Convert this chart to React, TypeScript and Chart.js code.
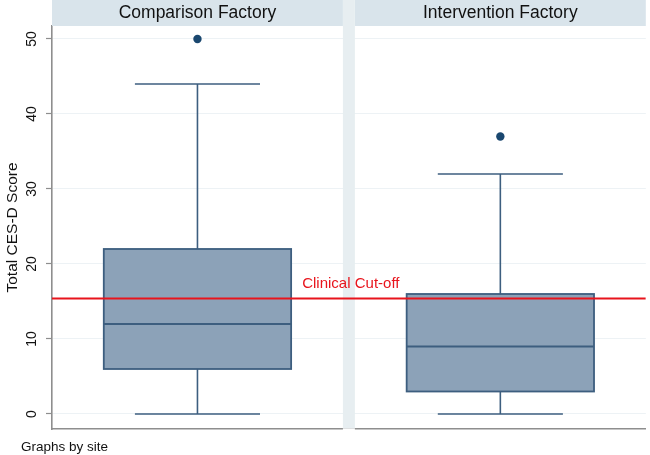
import { useEffect, useRef } from 'react';
import { Chart, registerables } from 'chart.js';

Chart.register(...registerables);

// ---- data ----
const sites = ['Comparison Factory', 'Intervention Factory'];
const lowerWhisker = [0, 0];
const q1 = [6, 3];
const median = [12, 9];
const q3 = [22, 16];
const upperWhisker = [44, 32];
const outliers = [[50], [37]];
const cutOff = 15.4;
const cutOffLabel = 'Clinical Cut-off';
const yTicks = [0, 10, 20, 30, 40, 50];
const yTitle = 'Total CES-D Score';
const note = 'Graphs by site';

// ---- layout helpers (sizes, not data) ----
const GAP = 12 / 292;
const X_MAX = sites.length + GAP * (sites.length - 1);
const BOX_HALF = 0.322;
const CAP_HALF = 0.215;
const LABEL_X = 0.86;
const panelStart = (i: number) => i * (1 + GAP);
const center = (i: number) => panelStart(i) + 0.5;
const FONT = '"Liberation Sans", Arial, Helvetica, sans-serif';

const panelPlugin = {
  id: 'panels',
  beforeDatasetsDraw(chart: any) {
    const { ctx, chartArea, scales } = chart;
    const x = scales.x;
    const y = scales.y;
    ctx.save();
    // header strips
    sites.forEach((s, i) => {
      const l = x.getPixelForValue(panelStart(i));
      const r = x.getPixelForValue(panelStart(i) + 1);
      ctx.fillStyle = '#d9e4eb';
      ctx.fillRect(l, 0, r - l, chartArea.top);
      ctx.fillStyle = '#111111';
      ctx.font = `17.5px ${FONT}`;
      ctx.textAlign = 'center';
      ctx.textBaseline = 'middle';
      ctx.fillText(s, (l + r) / 2, chartArea.top / 2 + 0.5);
    });
    // gaps between panels
    for (let i = 0; i < sites.length - 1; i++) {
      const l = x.getPixelForValue(panelStart(i) + 1);
      const r = x.getPixelForValue(panelStart(i + 1));
      ctx.fillStyle = '#e7eef1';
      ctx.fillRect(l, 0, r - l, chartArea.bottom - 0.5);
      ctx.fillStyle = '#ffffff';
      ctx.fillRect(l, chartArea.bottom - 0.5, r - l, 3);
    }
    // boxes
    const py = (v: number) => y.getPixelForValue(v);
    const seg = (x1: number, y1: number, x2: number, y2: number) => {
      ctx.beginPath();
      ctx.moveTo(x1, y1);
      ctx.lineTo(x2, y2);
      ctx.stroke();
    };
    sites.forEach((_, i) => {
      const c = x.getPixelForValue(center(i));
      const bl = x.getPixelForValue(center(i) - BOX_HALF);
      const br = x.getPixelForValue(center(i) + BOX_HALF);
      const cl = x.getPixelForValue(center(i) - CAP_HALF);
      const cr = x.getPixelForValue(center(i) + CAP_HALF);
      ctx.strokeStyle = '#3d5e7f';
      ctx.lineWidth = 1.6;
      seg(c, py(q3[i]), c, py(upperWhisker[i]));
      seg(c, py(q1[i]), c, py(lowerWhisker[i]));
      seg(cl, py(upperWhisker[i]), cr, py(upperWhisker[i]));
      seg(cl, py(lowerWhisker[i]), cr, py(lowerWhisker[i]));
      ctx.fillStyle = '#8ca2b8';
      ctx.fillRect(bl, py(q3[i]), br - bl, py(q1[i]) - py(q3[i]));
      ctx.lineWidth = 1.8;
      ctx.strokeRect(bl, py(q3[i]), br - bl, py(q1[i]) - py(q3[i]));
      seg(bl, py(median[i]), br, py(median[i]));
    });
    ctx.restore();
  },
  afterDatasetsDraw(chart: any) {
    const { ctx, scales } = chart;
    const x = scales.x;
    const y = scales.y;
    ctx.save();
    ctx.fillStyle = '#e8141c';
    ctx.font = `15px ${FONT}`;
    ctx.textAlign = 'left';
    ctx.textBaseline = 'alphabetic';
    ctx.fillText(cutOffLabel, x.getPixelForValue(LABEL_X), y.getPixelForValue(cutOff) - 10);
    ctx.fillStyle = '#111111';
    ctx.font = `13.5px ${FONT}`;
    ctx.fillText(note, 21, 451);
    ctx.restore();
  },
};

export default function App() {
  const ref = useRef<HTMLCanvasElement>(null);
  useEffect(() => {
    if (!ref.current) return;
    const outlierPoints: { x: number; y: number }[] = [];
    outliers.forEach((arr, i) => arr.forEach((v) => outlierPoints.push({ x: center(i), y: v })));
    const chart = new Chart(ref.current, {
      type: 'scatter',
      data: {
        datasets: [
          {
            label: cutOffLabel,
            data: [
              { x: 0, y: cutOff },
              { x: X_MAX, y: cutOff },
            ],
            showLine: true,
            borderColor: '#e8141c',
            borderWidth: 2,
            pointRadius: 0,
          } as any,
          {
            label: 'Outliers',
            data: outlierPoints,
            pointRadius: 4.2,
            pointBackgroundColor: '#1a476f',
            pointBorderColor: '#1a476f',
            pointBorderWidth: 0,
          },
        ],
      },
      options: {
        animation: false,
        responsive: true,
        maintainAspectRatio: false,
        layout: { padding: { left: 0, right: 2, top: 26, bottom: 26 } },
        plugins: { legend: { display: false }, tooltip: { enabled: false } },
        scales: {
          x: {
            type: 'linear',
            min: 0,
            max: X_MAX,
            ticks: { display: false },
            grid: { display: false },
            border: { display: true, color: '#8e8e8e', width: 1.6 },
            afterFit: (s: any) => {
              s.height = 0;
            },
          },
          y: {
            type: 'linear',
            min: -2,
            max: 51.73,
            afterBuildTicks: (s: any) => {
              s.ticks = yTicks.map((v) => ({ value: v }));
            },
            afterFit: (s: any) => {
              s.width = 52;
            },
            ticks: {
              minRotation: 90,
              maxRotation: 90,
              crossAlign: 'center',
              padding: 6,
              color: '#111111',
              font: { family: FONT, size: 14 },
            },
            grid: {
              color: '#edf2f5',
              lineWidth: 1,
              tickColor: '#8e8e8e',
              tickLength: 6,
              tickWidth: 1.2,
            },
            border: { display: true, color: '#8e8e8e', width: 1.6 },
            title: {
              display: true,
              text: yTitle,
              color: '#111111',
              font: { family: FONT, size: 15.5 },
              padding: { top: 3, bottom: 0 },
            },
          },
        },
      },
      plugins: [panelPlugin],
    });
    return () => chart.destroy();
  }, []);
  return (
    <div style={{ position: 'absolute', left: 0, top: 0, width: 650, height: 455 }}>
      <canvas ref={ref} />
    </div>
  );
}
